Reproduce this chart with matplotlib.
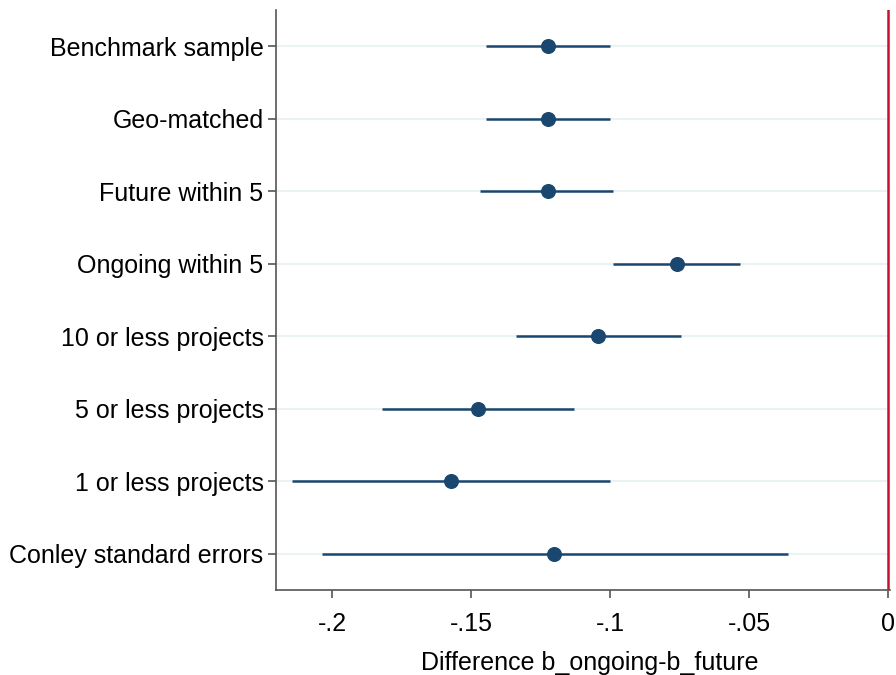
import numpy as np
import matplotlib.pyplot as plt

plt.rcParams['font.family'] = ['Liberation Sans', 'DejaVu Sans']

labels = ['Benchmark sample', 'Geo-matched', 'Future within 5', 'Ongoing within 5',
          '10 or less projects', '5 or less projects', '1 or less projects',
          'Conley standard errors']
coef = [-0.1224, -0.1224, -0.1224, -0.0760, -0.1043, -0.1476, -0.1572, -0.1200]
ci_lo = [-0.1447, -0.1447, -0.1469, -0.0988, -0.1338, -0.1819, -0.2144, -0.2037]
ci_hi = [-0.1000, -0.1000, -0.0988, -0.0532, -0.0746, -0.1129, -0.1000, -0.0360]

xticks = [-0.2, -0.15, -0.1, -0.05, 0]
xticklabels = ['-.2', '-.15', '-.1', '-.05', '0']

navy = '#1a476f'
fs = 18.0

fig = plt.figure(figsize=(8.96, 6.75), dpi=100)
ax = fig.add_axes([276 / 896, 1 - 590 / 675, 614 / 896, 580 / 675])

y = np.arange(1, len(labels) + 1)

# light gridlines at each coefficient row
for yi in y:
    ax.axhline(yi, color='#eaf2f3', lw=1.5, zorder=0)

ax.axvline(0, color='#c8102e', lw=1.8, zorder=1)

ax.hlines(y, ci_lo, ci_hi, color=navy, lw=1.8, zorder=2)
ax.plot(coef, y, 'o', color=navy, markersize=9.8, zorder=3)

ax.set_ylim(8.5, 0.5)
ax.set_xlim(-0.22014, 0.00072)
ax.set_yticks(y)
ax.set_yticklabels(labels, fontsize=fs)
ax.set_xticks(xticks)
ax.set_xticklabels(xticklabels, fontsize=fs)
ax.set_xlabel('Difference b_ongoing-b_future', fontsize=fs)
ax.xaxis.set_label_coords(0.511, -0.106)

for s in ['top', 'right']:
    ax.spines[s].set_visible(False)
for s in ['left', 'bottom']:
    ax.spines[s].set_color('#555555')
    ax.spines[s].set_linewidth(1.2)
ax.tick_params(axis='both', length=6, width=1.2, color='#555555')
ax.tick_params(axis='x', pad=10)
ax.tick_params(axis='y', pad=3)

fig.savefig('out.png', dpi=100, facecolor='w')
